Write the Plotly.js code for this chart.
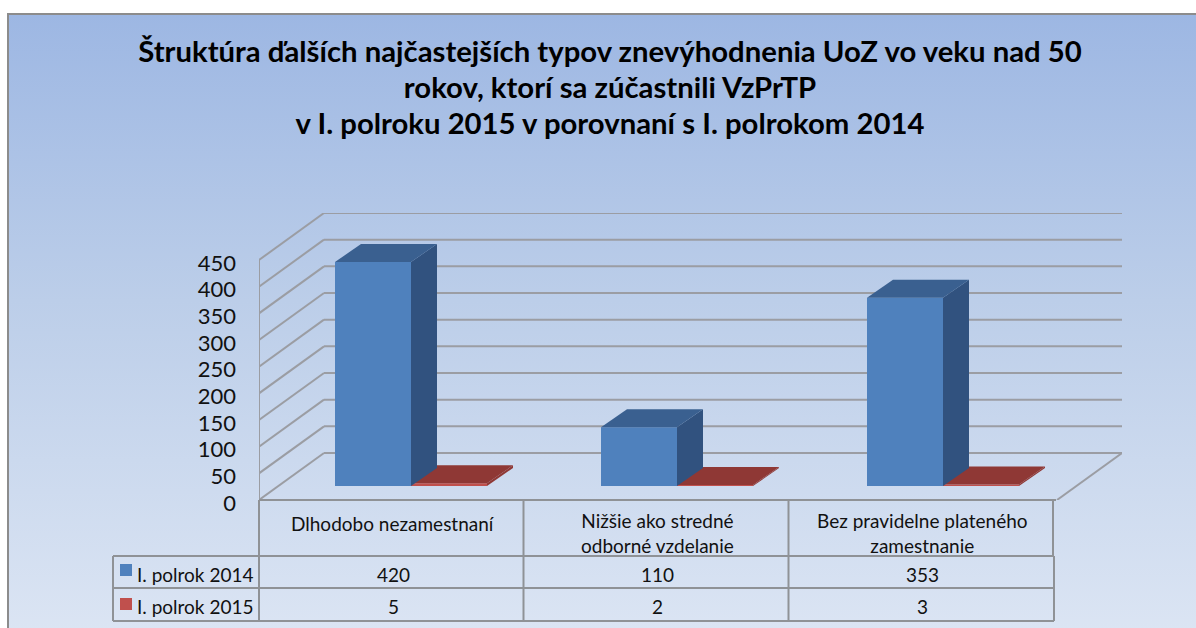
<!DOCTYPE html>
<html><head><meta charset="utf-8">
<script src="https://cdn.plot.ly/plotly-3.0.1.min.js"></script>
<style>
html,body{margin:0;padding:0;background:#fff;width:1196px;height:628px;overflow:hidden}
#frame{position:absolute;left:7px;top:13px;width:1200px;height:640px;box-sizing:border-box;border:2px solid #8c8c8c;
background:linear-gradient(180deg,#9db7e3 0%,#bccee9 45%,#dde6f4 100%)}
#chart{position:absolute;left:0;top:0;width:1196px;height:628px}
</style></head><body>
<div id="frame"></div><div id="chart"></div>
<script>
const categories=[["Dlhodobo nezamestnaní"],["Nižšie ako stredné","odborné vzdelanie"],["Bez pravidelne plateného","zamestnanie"]];
const series2014=[420,110,353];
const series2015=[5,2,3];
const seriesNames=["I. polrok 2014","I. polrok 2015"];
const yTicks=[0,50,100,150,200,250,300,350,400,450];
const titleLines=["Štruktúra ďalších najčastejších typov znevýhodnenia UoZ vo veku nad 50","rokov, ktorí sa zúčastnili VzPrTP","v I. polroku 2015 v porovnaní s I. polrokom 2014"];

const L=259,T=213,R=1122,B=500,wallPx=65,catPx=(R-L-wallPx)/3,valPx=240/450;
const wallDx=wallPx/catPx, wallDy=47/valPx;       // depth of the chart floor in axis units
const barW=76/catPx, barDepth=[19/catPx,14/valPx];// bar front sits this far into the floor
const faceDx=26/catPx, faceDy=18/valPx;           // visible depth of a column
const GRID='#9b9da3';
const py=p=>(B-p)/(B-T);

const shapes=[];
const line=(x0,y0,x1,y1,c,w)=>({type:'line',xref:'x',yref:'y',x0,y0,x1,y1,layer:'below',line:{color:c,width:w}});
yTicks.forEach(v=>{
  shapes.push(line(0,v,wallDx,v+wallDy,GRID,2));
  shapes.push(line(wallDx,v+wallDy,3+wallDx,v+wallDy,GRID,2));
});
shapes.push(line(0,0,0,450,GRID,2));
shapes.push(line(3,0,3+wallDx,wallDy,GRID,2));

// data table
const tl=(x0,y0,x1,y1)=>({type:'line',xref:'paper',yref:'paper',x0:(x0-L)/(R-L),x1:(x1-L)/(R-L),y0:py(y0),y1:py(y1),line:{color:'#8f9296',width:2}});
[[259,500,1056,500],[259,500,259,621],[523.5,500,523.5,621],[788.5,500,788.5,621],[1053,500,1053,556],
 [113,556,1054,556],[113,588,1054,588],[113,621,1054,621],[113,556,113,621],[1054,556,1054,621]]
 .forEach(a=>shapes.push(tl(...a)));
const colors=['#4f81bd','#c0504d'];
[[120,564],[120,598]].forEach((p,i)=>shapes.push({type:'rect',xref:'paper',yref:'paper',
  x0:(p[0]-L)/(R-L),x1:(p[0]+12-L)/(R-L),y0:py(p[1]),y1:py(p[1]+12),fillcolor:colors[i],line:{width:0}}));

const annotations=[];
const ann=(text,px,pyy,size,xa)=>annotations.push({text,xref:'paper',yref:'paper',x:(px-L)/(R-L),y:py(pyy),
  xanchor:xa||'center',yanchor:'middle',showarrow:false,font:{family:'Lato, sans-serif',size,color:'#111'},align:'center'});
const colCentre=[393,657,922];
categories.forEach((c,i)=>ann(c.join('<br>'),colCentre[i],c.length>1?533:523,19));
series2014.forEach((v,i)=>ann(String(v),colCentre[i],574,19));
series2015.forEach((v,i)=>ann(String(v),colCentre[i],606,19));
seriesNames.forEach((n,i)=>ann(n,135,[574,606][i],19,'left'));

const cx=(i,s)=>i+0.5+barDepth[0]+(s===0?-barW/2:barW/2);
function faces(vals,s,topCol,sideCol,name){
  const out=[];
  vals.forEach((v,i)=>{
    const x0=cx(i,s)-barW/2,x1=x0+barW,b=barDepth[1],t=b+v;
    out.push({type:'scatter',mode:'lines',x:[x1,x1+faceDx,x1+faceDx,x1,x1],y:[b,b+faceDy,t+faceDy,t,b],
      fill:'toself',fillcolor:sideCol,line:{width:0},showlegend:false,hoverinfo:'skip'});
    out.push({type:'scatter',mode:'lines',x:[x0,x1,x1+faceDx,x0+faceDx,x0],y:[t,t,t+faceDy,t+faceDy,t],
      fill:'toself',fillcolor:topCol,line:{width:0},showlegend:false,hoverinfo:'skip'});
  });
  return out;
}
const bar=(vals,s,name)=>({type:'bar',name,x:vals.map((_,i)=>cx(i,s)),y:vals,base:vals.map(()=>barDepth[1]),
  width:barW,marker:{color:colors[s],line:{width:0}},showlegend:false});
const traces=[bar(series2014,0,seriesNames[0]),bar(series2015,1,seriesNames[1]),
  ...faces(series2015,1,'#8f3835','#8f3835'),...faces(series2014,0,'#3a6090','#31527f')];

const layout={
  width:1196,height:628,margin:{l:L,r:1196-R,t:T,b:628-B,pad:0},
  paper_bgcolor:'rgba(0,0,0,0)',plot_bgcolor:'rgba(0,0,0,0)',
  barmode:'overlay',showlegend:false,
  font:{family:'Lato, sans-serif',color:'#111'},
  title:{text:titleLines.map(t=>'<span style="font-size:29.3px">'+t+'</span>').join('<br>'),
    font:{family:'Lato, sans-serif',size:27.7,color:'#000',weight:700},
    x:610/1196,xanchor:'center',y:1-62/628,yanchor:'top'},
  xaxis:{range:[0,3+wallDx],visible:false,fixedrange:true},
  yaxis:{range:[0,450+wallDy],tickmode:'array',tickvals:yTicks,ticktext:yTicks.map(String),showgrid:false,zeroline:false,
    showline:false,ticks:'',ticklabelstandoff:22,ticklabelshift:3,tickfont:{family:'Lato, sans-serif',size:22,color:'#111'},fixedrange:true},
  shapes,annotations
};
Plotly.newPlot('chart',traces,layout,{displayModeBar:false,staticPlot:true});
</script></body></html>
